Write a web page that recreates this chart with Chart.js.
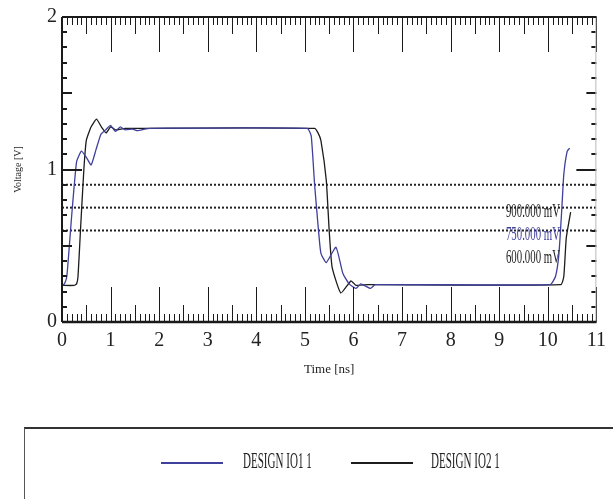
<!DOCTYPE html>
<html>
<head>
<meta charset="utf-8">
<script src="https://cdn.jsdelivr.net/npm/chart.js@4.4.1/dist/chart.umd.min.js"></script>
<style>
  html, body { margin: 0; padding: 0; background: #fff; overflow: hidden; }
  #wrap { position: absolute; left: 0; top: 0; width: 613px; height: 428px; }
  #legend {
    position: absolute; left: 24px; top: 427px; width: 600px; height: 80px;
    border-top: 2px solid #333; border-left: 1px solid #555; box-sizing: border-box;
  }
  .lg-line { position: absolute; top: 33px; width: 62px; height: 0; border-top: 2px solid; }
  .lg-text {
    position: absolute; top: 19px; font-family: "Liberation Serif", serif; font-size: 23px;
    color: #222; transform: scaleX(0.48); transform-origin: left center; white-space: nowrap;
  }
</style>
</head>
<body>
<div id="wrap"><canvas id="chart" width="613" height="428"></canvas></div>
<div id="legend">
  <div class="lg-line" style="left:136px;border-color:#3f3f9c"></div>
  <div class="lg-text" style="left:218px">DESIGN IO1 1</div>
  <div class="lg-line" style="left:326px;border-color:#1c1c1c"></div>
  <div class="lg-text" style="left:406px">DESIGN IO2 1</div>
</div>
<script>
// series names
const seriesNames = ['DESIGN IO1 1', 'DESIGN IO2 1'];

// DESIGN IO1 1 (blue)
const io1Time = [0, 0.05, 0.1, 0.2, 0.3, 0.4, 0.5, 0.6, 0.7, 0.8, 0.9, 1.0, 1.1, 1.2, 1.3, 1.45, 1.55, 1.7, 1.8,
  5.05, 5.13, 5.2, 5.28, 5.33, 5.44, 5.64, 5.78, 5.91, 6.05, 6.15, 6.25, 6.35, 6.45,
  10.05, 10.16, 10.23, 10.29, 10.33, 10.4, 10.45];
const io1Volt = [0.24, 0.25, 0.3, 0.7, 1.05, 1.12, 1.08, 1.03, 1.13, 1.23, 1.26, 1.29, 1.25, 1.28, 1.26, 1.265, 1.255, 1.265, 1.27,
  1.27, 1.22, 0.9, 0.6, 0.45, 0.39, 0.49, 0.32, 0.25, 0.22, 0.25, 0.235, 0.22, 0.245,
  0.245, 0.3, 0.45, 0.75, 0.97, 1.12, 1.14];

// DESIGN IO2 1 (black)
const io2Time = [0, 0.25, 0.3, 0.33, 0.38, 0.45, 0.5, 0.6, 0.71, 0.81, 0.91, 1.0, 1.1, 1.3,
  5.2, 5.27, 5.33, 5.44, 5.5, 5.56, 5.74, 5.95, 6.05, 6.3,
  10.27, 10.33, 10.38, 10.47];
const io2Volt = [0.24, 0.24, 0.25, 0.3, 0.6, 1.0, 1.19, 1.28, 1.33, 1.28, 1.24, 1.28, 1.26, 1.27,
  1.27, 1.24, 1.19, 0.93, 0.6, 0.36, 0.19, 0.27, 0.24, 0.245,
  0.245, 0.3, 0.55, 0.72];

// threshold markers
const thresholdVolts = [0.9, 0.75, 0.6];
const thresholdLabels = ['900.000 mV', '750.000 mV', '600.000 mV'];
const thresholdColors = ['#222', '#3f3f9c', '#222'];

// axes
const xMin = 0, xMax = 11;
const yMin = 0, yMax = 2;

const toPoints = (ts, vs) => ts.map((t, i) => ({ x: t, y: vs[i] }));

const datasets = [
  { label: seriesNames[0], data: toPoints(io1Time, io1Volt), borderColor: '#3f3f9c', borderWidth: 1.3, pointRadius: 0, tension: 0.15 },
  { label: seriesNames[1], data: toPoints(io2Time, io2Volt), borderColor: '#1c1c1c', borderWidth: 1.3, pointRadius: 0, tension: 0.15 }
];
thresholdVolts.forEach(v => {
  datasets.push({ label: 'thr', data: [{ x: xMin, y: v }, { x: xMax, y: v }], borderColor: '#222',
    borderWidth: 2, borderDash: [2, 2], pointRadius: 0 });
});

// frame + inward tick marks on all four sides, and threshold labels
const frameTicks = {
  id: 'frameTicks',
  afterDatasetsDraw(chart) {
    const { ctx, chartArea: a, scales: { x, y } } = chart;
    ctx.save();
    ctx.strokeStyle = '#1a1a1a';
    ctx.lineWidth = 1;
    ctx.beginPath();
    for (let i = 0; i <= (xMax - xMin) * 10; i++) {
      const px = Math.round(x.getPixelForValue(xMin + i / 10)) + 0.5;
      const len = i % 10 === 0 ? 35 : (i % 5 === 0 ? 17 : 8);
      ctx.moveTo(px, a.bottom); ctx.lineTo(px, a.bottom - len);
      ctx.moveTo(px, a.top); ctx.lineTo(px, a.top + len);
    }
    ctx.stroke();
    ctx.lineWidth = 2;
    ctx.beginPath();
    for (let i = 0; i <= (yMax - yMin) * 10; i++) {
      const py = Math.round(y.getPixelForValue(yMin + i / 10));
      const len = i % 10 === 0 ? 20 : (i % 5 === 0 ? 10 : 5);
      ctx.moveTo(a.left, py); ctx.lineTo(a.left + len, py);
      ctx.moveTo(a.right, py); ctx.lineTo(a.right - len, py);
    }
    ctx.stroke();
    // frame
    ctx.strokeStyle = '#bbb'; ctx.lineWidth = 1;
    ctx.beginPath(); ctx.moveTo(a.right - 0.5, a.top); ctx.lineTo(a.right - 0.5, a.bottom); ctx.stroke();
    ctx.strokeStyle = '#1a1a1a'; ctx.lineWidth = 2;
    ctx.beginPath();
    ctx.moveTo(a.left, a.top); ctx.lineTo(a.right, a.top);
    ctx.moveTo(a.left, a.top); ctx.lineTo(a.left, a.bottom);
    ctx.stroke();
    ctx.lineWidth = 2.5;
    ctx.beginPath(); ctx.moveTo(a.left, a.bottom); ctx.lineTo(a.right, a.bottom); ctx.stroke();
    // threshold labels
    ctx.font = '18px "Liberation Serif", serif';
    ctx.textAlign = 'right';
    ctx.textBaseline = 'middle';
    const lx = x.getPixelForValue(10.25);
    thresholdVolts.forEach((v, i) => {
      const ly = y.getPixelForValue(v) + 28;
      ctx.save();
      ctx.translate(lx, ly);
      ctx.scale(0.6, 1);
      ctx.fillStyle = thresholdColors[i];
      ctx.fillText(thresholdLabels[i], 0, 0);
      ctx.restore();
    });
    ctx.restore();
  }
};

new Chart(document.getElementById('chart'), {
  type: 'line',
  data: { datasets },
  options: {
    responsive: false,
    animation: false,
    layout: { padding: { top: 15, right: 10, left: 0, bottom: 0 } },
    plugins: { legend: { display: false }, tooltip: { enabled: false } },
    scales: {
      x: {
        type: 'linear', min: xMin, max: xMax,
        grid: { display: false, drawTicks: false }, border: { display: false },
        ticks: { stepSize: 1, padding: 7, color: '#222', font: { family: 'Liberation Serif', size: 20 } },
        title: { display: true, text: 'Time [ns]', color: '#222', font: { family: 'Liberation Serif', size: 13 }, padding: { top: 4, bottom: 51 } },
        afterFit(s) { s.height = 106; }
      },
      y: {
        type: 'linear', min: yMin, max: yMax,
        grid: { display: false, drawTicks: false }, border: { display: false },
        ticks: { stepSize: 1, padding: 5, color: '#222', font: { family: 'Liberation Serif', size: 20 } },
        title: { display: true, text: 'Voltage [V]', color: '#222', font: { family: 'Liberation Serif', size: 10 }, padding: { top: 12, bottom: 0 } },
        afterFit(s) { s.width = 62; }
      }
    }
  },
  plugins: [frameTicks]
});
</script>
</body>
</html>
